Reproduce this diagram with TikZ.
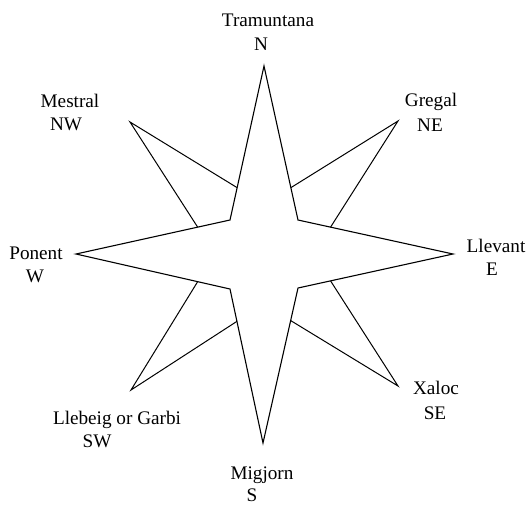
\documentclass[tikz,border=0pt]{standalone}
\usepackage{fontspec}
\setmainfont{Liberation Serif}
\newfontfamily\windfont{Liberation Serif}
\usetikzlibrary{calc}
\begin{document}
\begin{tikzpicture}[x=1pt,y=-1pt,
  wind/.style={inner sep=0pt,anchor=base,font=\windfont\fontsize{19.2}{23}\selectfont},
  outline/.style={draw=black,line width=1.1pt,line join=miter},
  ray/.style={draw=black,line width=1pt}]
\useasboundingbox[fill=white] (0,0) rectangle (526,504);
% star points
\coordinate (N) at (264,66);
\coordinate (S) at (263,443);
\coordinate (W) at (76,254);
\coordinate (E) at (453,254);
\coordinate (iNW) at (230,220);
\coordinate (iNE) at (298,220);
\coordinate (iSW) at (230,289);
\coordinate (iSE) at (298,288);
% diagonal tips
\coordinate (NW) at (130,122);
\coordinate (NE) at (398,121);
\coordinate (SW) at (131,390);
\coordinate (SE) at (398,386);
% attachment points on the edges
\coordinate (aNW1) at ($(N)!0.79!(iNW)$);
\coordinate (aNW2) at ($(W)!0.79!(iNW)$);
\coordinate (aNE1) at ($(N)!0.79!(iNE)$);
\coordinate (aNE2) at ($(E)!0.79!(iNE)$);
\coordinate (aSW1) at ($(W)!0.79!(iSW)$);
\coordinate (aSW2) at ($(S)!0.79!(iSW)$);
\coordinate (aSE1) at ($(E)!0.79!(iSE)$);
\coordinate (aSE2) at ($(S)!0.79!(iSE)$);
% diagonal rays
\draw[ray] (aNW1) -- (NW) -- (aNW2);
\draw[ray] (aNE1) -- (NE) -- (aNE2);
\draw[ray] (aSW1) -- (SW) -- (aSW2);
\draw[ray] (aSE1) -- (SE) -- (aSE2);
% main star
\draw[outline] (N) -- (iNE) -- (E) -- (iSE) -- (S) -- (iSW) -- (W) -- (iNW) -- cycle;
% labels
\node[wind] (tN1) at (268,26) {Tramuntana};
\node[wind] (tN2) at (261,50) {N};
\node[wind] (tNW1) at (70,107) {Mestral};
\node[wind] (tNW2) at (66,130) {NW};
\node[wind] (tNE1) at (431,106) {Gregal};
\node[wind] (tNE2) at (430,131) {NE};
\node[wind] (tW1) at (36,259) {Ponent};
\node[wind] (tW2) at (35,282) {W};
\node[wind] (tE1) at (496,252) {Llevant};
\node[wind] (tE2) at (492,275) {E};
\node[wind] (tSE1) at (436,394) {Xaloc};
\node[wind] (tSE2) at (435,419) {SE};
\node[wind] (tSW1) at (117,424) {Llebeig or Garbi};
\node[wind] (tSW2) at (97,447) {SW};
\node[wind] (tS1) at (262,479) {Migjorn};
\node[wind] (tS2) at (252,501) {S};
\end{tikzpicture}
\end{document}
